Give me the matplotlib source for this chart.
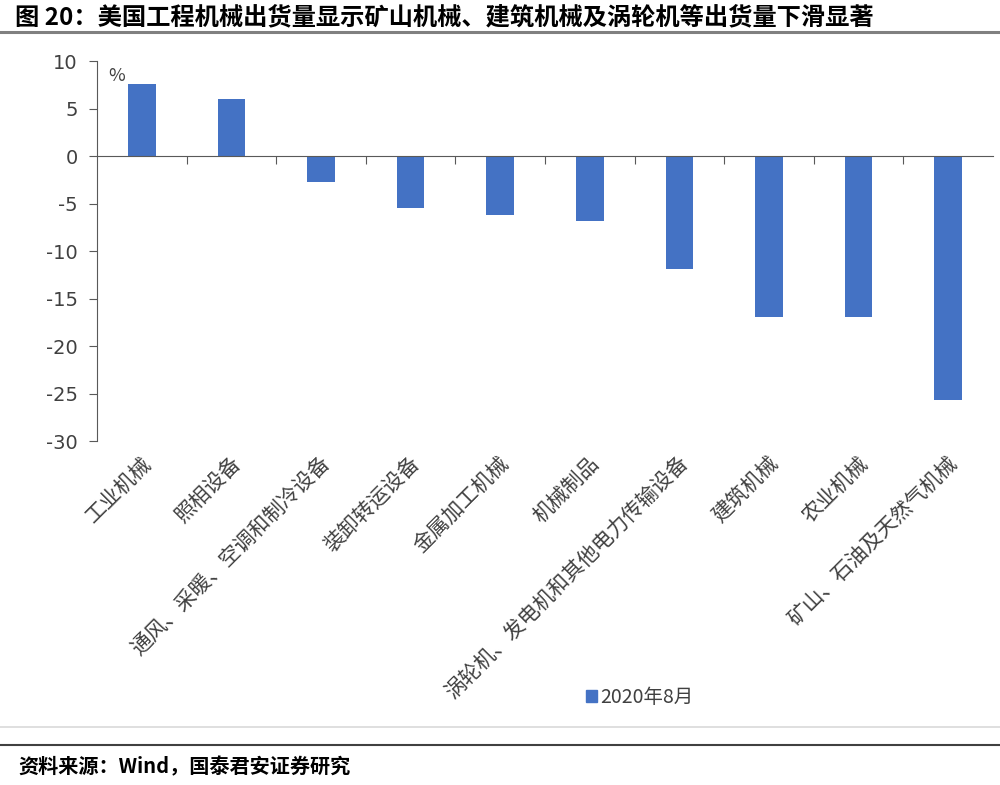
import matplotlib
matplotlib.use("Agg")
import matplotlib.pyplot as plt
import matplotlib.transforms as mtransforms
from matplotlib.lines import Line2D
from matplotlib.patches import Patch

plt.rcParams['font.family'] = ['Noto Sans CJK SC', 'DejaVu Sans']

categories = ['工业机械', '照相设备', '通风、采暖、空调和制冷设备', '装卸转运设备',
              '金属加工机械', '机械制品', '涡轮机、发电机和其他电力传输设备',
              '建筑机械', '农业机械', '矿山、石油及天然气机械']
values = [7.6, 6.0, -2.7, -5.5, -6.2, -6.8, -11.9, -16.9, -16.9, -25.7]
series_name = '2020年8月'
yticks = [10, 5, 0, -5, -10, -15, -20, -25, -30]

bar_color = '#4472C4'
axis_color = '#595959'
text_color = '#404040'

fig = plt.figure(figsize=(10, 7.85), dpi=100)
ax = fig.add_axes([0.097, 0.438, 0.896, 0.484])

x = list(range(len(categories)))
ax.bar(x, values, width=0.31, color=bar_color, zorder=2)

ax.set_xlim(-0.5, len(categories) - 0.5)
ax.set_ylim(-30, 10)
ax.set_yticks(yticks)
ax.set_yticklabels([str(v) for v in yticks], fontsize=14, color=text_color,
                   family=['DejaVu Sans'])
ax.tick_params(axis='y', direction='out', length=6, color=axis_color, pad=8)

# category axis sits on zero, ticks between categories
ax.spines['bottom'].set_position(('data', 0))
ax.spines['bottom'].set_color(axis_color)
ax.spines['left'].set_color(axis_color)
ax.spines['top'].set_visible(False)
ax.spines['right'].set_visible(False)
ax.set_xticks([i + 0.5 for i in x[:-1]])
ax.set_xticklabels([])
ax.tick_params(axis='x', direction='out', length=6, color=axis_color)

trans = mtransforms.blended_transform_factory(ax.transData, ax.transAxes)
for i, lab in enumerate(categories):
    ax.text(i + 0.07, -0.05, lab, transform=trans, rotation=45,
            rotation_mode='anchor', ha='right', va='center',
            fontsize=15, color=text_color)

ax.text(0.012, 0.985, '%', transform=ax.transAxes, fontsize=13,
        color=text_color, va='top')

ax.legend(handles=[Patch(color=bar_color, label=series_name)],
          loc='center', bbox_to_anchor=(0.64, 0.112), bbox_transform=fig.transFigure,
          frameon=False, fontsize=14, handlelength=0.55, handleheight=0.55,
          handletextpad=0.2, labelcolor=text_color)

# title, footer and rules
fig.text(0.015, 0.978, '图 20：美国工程机械出货量显示矿山机械、建筑机械及涡轮机等出货量下滑显著',
         fontsize=17.5, fontweight='bold', color='black', va='center')
fig.add_artist(Line2D([0, 1], [0.959, 0.959], color='#808080', lw=2.2))
fig.add_artist(Line2D([0, 1], [0.074, 0.074], color='#d9d9d9', lw=1.2))
fig.add_artist(Line2D([0, 1], [0.051, 0.051], color='#404040', lw=1.5))
fig.text(0.018, 0.023, '资料来源：Wind，国泰君安证券研究', fontsize=14.5,
         fontweight='bold', color='black', va='center')

fig.savefig('out.png', dpi=100, facecolor='white')
